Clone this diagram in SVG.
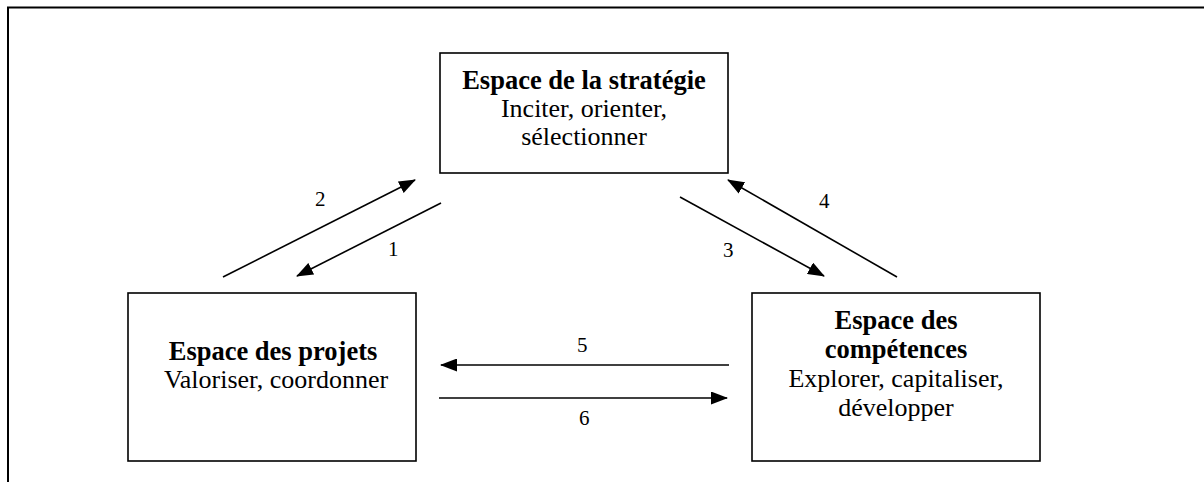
<svg xmlns="http://www.w3.org/2000/svg" width="1204" height="482" viewBox="0 0 1204 482">
  <style>
    .frame { fill: none; stroke: #000; stroke-width: 2; }
    .box { fill: #fff; stroke: #000; stroke-width: 1.6; }
    .conn { stroke: #000; stroke-width: 1.6; fill: none; }
    text { font-family: "Liberation Serif", "Times New Roman", serif; font-size: 26px; fill: #000; }
    .b { font-weight: bold; font-size: 26.5px; }
    .c { text-anchor: middle; }
    .lbl { font-size: 21px; }
  </style>
  <defs>
    <marker id="ah" viewBox="0 0 17 13" refX="16" refY="6.5" markerWidth="17" markerHeight="13" markerUnits="userSpaceOnUse" orient="auto">
      <path d="M0,0 L17,6.5 L0,13 Z" fill="#000"/>
    </marker>
  </defs>

  <path class="frame" d="M8,482 L8,7.5 L1204,7.5"/>

  <g id="strategie">
    <rect class="box" x="440" y="53" width="288" height="120"/>
    <text class="c b" x="584" y="89">Espace de la stratégie</text>
    <text class="c" x="584" y="117">Inciter, orienter,</text>
    <text class="c" x="584" y="145">sélectionner</text>
  </g>

  <g id="projets">
    <rect class="box" x="128" y="293" width="288" height="168"/>
    <text class="c b" x="273" y="360">Espace des projets</text>
    <text class="c" x="276" y="388">Valoriser, coordonner</text>
  </g>

  <g id="competences">
    <rect class="box" x="752" y="293" width="288" height="168"/>
    <text class="c b" x="896" y="329">Espace des</text>
    <text class="c b" x="896" y="358">compétences</text>
    <text class="c" x="896" y="387">Explorer, capitaliser,</text>
    <text class="c" x="896" y="416">développer</text>
  </g>

  <g id="connectors">
    <line class="conn" x1="223" y1="277" x2="415" y2="180" marker-end="url(#ah)"/>
    <line class="conn" x1="441" y1="203" x2="297" y2="276" marker-end="url(#ah)"/>
    <line class="conn" x1="680" y1="197" x2="824" y2="276" marker-end="url(#ah)"/>
    <line class="conn" x1="897" y1="277" x2="728" y2="180" marker-end="url(#ah)"/>
    <line class="conn" x1="729" y1="365" x2="441" y2="365" marker-end="url(#ah)"/>
    <line class="conn" x1="439" y1="398" x2="727" y2="398" marker-end="url(#ah)"/>
    <text class="lbl" x="315" y="206">2</text>
    <text class="lbl" x="388" y="256">1</text>
    <text class="lbl" x="723" y="257">3</text>
    <text class="lbl" x="819" y="208">4</text>
    <text class="lbl" x="577" y="352">5</text>
    <text class="lbl" x="579" y="425">6</text>
  </g>
</svg>
